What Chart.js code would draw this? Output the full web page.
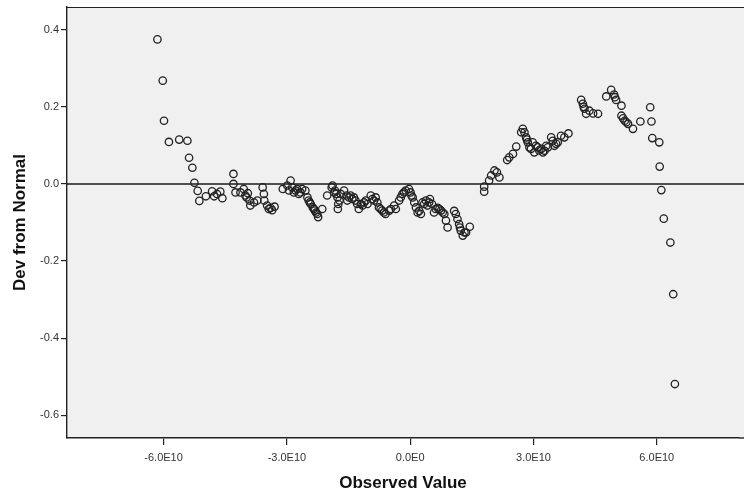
<!DOCTYPE html>
<html>
<head>
<meta charset="utf-8">
<script src="https://cdn.jsdelivr.net/npm/chart.js@4.4.0/dist/chart.umd.min.js"></script>
<style>
  html, body { margin: 0; padding: 0; background: #ffffff; }
  #wrap { width: 744px; height: 497px; }
</style>
</head>
<body>
<div id="wrap"><canvas id="chart" width="744" height="497"></canvas></div>
<script>
const observedValues = [
  -6.15e10, -6.02e10, -5.99e10, -5.87e10, -5.62e10, -5.42e10, -5.38e10, -5.30e10, -5.25e10, -5.17e10,
  -5.13e10, -4.97e10, -4.82e10, -4.77e10, -4.70e10, -4.62e10, -4.57e10, -4.30e10, -4.30e10, -4.25e10,
  -4.13e10, -4.05e10, -4.01e10, -3.98e10, -3.95e10, -3.91e10, -3.89e10, -3.80e10, -3.72e10, -3.59e10,
  -3.56e10, -3.55e10, -3.48e10, -3.44e10, -3.40e10, -3.36e10, -3.30e10, -3.10e10, -2.99e10, -2.95e10,
  -2.91e10, -2.87e10, -2.83e10, -2.79e10, -2.75e10, -2.71e10, -2.67e10, -2.63e10, -2.55e10, -2.50e10,
  -2.47e10, -2.44e10, -2.42e10, -2.37e10, -2.34e10, -2.32e10, -2.29e10, -2.26e10, -2.24e10, -2.14e10,
  -2.02e10, -1.91e10, -1.89e10, -1.85e10, -1.83e10, -1.80e10, -1.77e10, -1.76e10, -1.75e10, -1.72e10,
  -1.69e10, -1.61e10, -1.55e10, -1.53e10, -1.49e10, -1.45e10, -1.41e10, -1.37e10, -1.33e10, -1.29e10,
  -1.25e10, -1.20e10, -1.16e10, -1.12e10, -1.08e10, -1.04e10, -0.96e10, -0.92e10, -0.88e10, -0.84e10,
  -0.80e10, -0.76e10, -0.72e10, -0.68e10, -0.64e10, -0.60e10, -0.51e10, -0.47e10, -0.39e10, -0.35e10,
  -0.27e10, -0.23e10, -0.19e10, -0.15e10, -0.11e10, -0.03e10, 0.01e10, 0.03e10, 0.06e10, 0.10e10,
  0.14e10, 0.18e10, 0.22e10, 0.26e10, 0.30e10, 0.34e10, 0.38e10, 0.42e10, 0.46e10, 0.48e10,
  0.53e10, 0.58e10, 0.62e10, 0.67e10, 0.71e10, 0.75e10, 0.79e10, 0.83e10, 0.87e10, 0.91e10,
  1.07e10, 1.11e10, 1.15e10, 1.19e10, 1.21e10, 1.23e10, 1.28e10, 1.32e10, 1.36e10, 1.45e10,
  1.80e10, 1.80e10, 1.92e10, 1.97e10, 2.05e10, 2.11e10, 2.17e10, 2.36e10, 2.41e10, 2.50e10,
  2.58e10, 2.70e10, 2.74e10, 2.78e10, 2.82e10, 2.84e10, 2.86e10, 2.90e10, 2.94e10, 2.98e10,
  3.02e10, 3.06e10, 3.10e10, 3.14e10, 3.19e10, 3.23e10, 3.27e10, 3.31e10, 3.35e10, 3.43e10,
  3.47e10, 3.51e10, 3.55e10, 3.59e10, 3.67e10, 3.75e10, 3.85e10, 4.16e10, 4.20e10, 4.22e10,
  4.24e10, 4.28e10, 4.36e10, 4.45e10, 4.57e10, 4.77e10, 4.89e10, 4.96e10, 4.98e10, 5.01e10,
  5.14e10, 5.14e10, 5.18e10, 5.22e10, 5.26e10, 5.30e10, 5.42e10, 5.60e10, 5.84e10, 5.87e10,
  5.89e10, 6.06e10, 6.07e10, 6.11e10, 6.17e10, 6.33e10, 6.40e10, 6.44e10
];
const devFromNormal = [
  0.375, 0.268, 0.164, 0.109, 0.115, 0.112, 0.068, 0.042, 0.003, -0.018,
  -0.044, -0.032, -0.019, -0.032, -0.026, -0.020, -0.037, 0.026, 0.000, -0.022,
  -0.022, -0.013, -0.030, -0.035, -0.024, -0.043, -0.056, -0.048, -0.043, -0.009,
  -0.026, -0.043, -0.056, -0.065, -0.062, -0.068, -0.059, -0.013, -0.004, -0.017,
  0.009, -0.009, -0.022, -0.017, -0.013, -0.026, -0.022, -0.013, -0.017, -0.035,
  -0.043, -0.048, -0.052, -0.061, -0.065, -0.069, -0.074, -0.078, -0.086, -0.065,
  -0.030, -0.009, -0.004, -0.022, -0.017, -0.026, -0.035, -0.065, -0.052, -0.043,
  -0.026, -0.017, -0.030, -0.043, -0.035, -0.030, -0.039, -0.035, -0.043, -0.052,
  -0.065, -0.052, -0.056, -0.048, -0.043, -0.052, -0.030, -0.039, -0.043, -0.035,
  -0.048, -0.061, -0.065, -0.069, -0.074, -0.078, -0.069, -0.065, -0.056, -0.065,
  -0.043, -0.035, -0.026, -0.022, -0.017, -0.013, -0.022, -0.030, -0.035, -0.048,
  -0.061, -0.074, -0.070, -0.078, -0.048, -0.052, -0.043, -0.056, -0.048, -0.039,
  -0.052, -0.074, -0.065, -0.062, -0.065, -0.069, -0.074, -0.078, -0.095, -0.113,
  -0.070, -0.078, -0.091, -0.104, -0.113, -0.121, -0.134, -0.126, -0.126, -0.111,
  -0.007, -0.020, 0.009, 0.022, 0.035, 0.030, 0.017, 0.062, 0.069, 0.078,
  0.097, 0.134, 0.143, 0.134, 0.121, 0.115, 0.108, 0.095, 0.091, 0.108,
  0.082, 0.099, 0.095, 0.087, 0.091, 0.082, 0.086, 0.099, 0.095, 0.121,
  0.112, 0.099, 0.104, 0.108, 0.125, 0.121, 0.131, 0.218, 0.208, 0.200,
  0.195, 0.182, 0.190, 0.183, 0.182, 0.227, 0.244, 0.232, 0.225, 0.218,
  0.203, 0.177, 0.170, 0.164, 0.160, 0.156, 0.143, 0.162, 0.199, 0.162,
  0.119, 0.108, 0.045, -0.016, -0.090, -0.152, -0.286, -0.519
];

const xTickValues = [-6e10, -3e10, 0, 3e10, 6e10];
const xTickLabels = ["-6.0E10", "-3.0E10", "0.0E0", "3.0E10", "6.0E10"];
const yTickValues = [0.4, 0.2, 0.0, -0.2, -0.4, -0.6];
const yTickLabels = ["0.4", "0.2", "0.0", "-0.2", "-0.4", "-0.6"];

const points = observedValues.map((v, i) => ({ x: v, y: devFromNormal[i] }));

// grey plot background, top frame line and the zero reference line
const frame = {
  id: "frame",
  beforeDraw(chart) {
    const { ctx, chartArea: a } = chart;
    ctx.save();
    ctx.fillStyle = "#f0f0f0";
    ctx.fillRect(a.left, a.top, chart.width - a.left, a.bottom - a.top);
    ctx.strokeStyle = "#222";
    ctx.lineWidth = 1.2;
    ctx.beginPath();
    ctx.moveTo(a.left, a.top + 0.5);
    ctx.lineTo(chart.width, a.top + 0.5);
    ctx.stroke();
    ctx.restore();
  },
  beforeDatasetsDraw(chart) {
    const { ctx, chartArea: a, scales } = chart;
    const y0 = scales.y.getPixelForValue(0);
    ctx.save();
    ctx.strokeStyle = "#1a1a1a";
    ctx.lineWidth = 1.6;
    ctx.beginPath();
    ctx.moveTo(a.left, y0);
    ctx.lineTo(chart.width, y0);
    ctx.stroke();
    ctx.restore();
  },
  afterDraw(chart) {
    const { ctx, chartArea: a } = chart;
    ctx.save();
    ctx.strokeStyle = "#222";
    ctx.lineWidth = 1.4;
    ctx.beginPath();
    ctx.moveTo(a.right, a.bottom);
    ctx.lineTo(chart.width, a.bottom);
    ctx.stroke();
    ctx.restore();
  }
};

const tickFont = { family: "'Liberation Sans', Arial, sans-serif", size: 11 };
const titleFont = { family: "'Liberation Sans', Arial, sans-serif", size: 17, weight: "bold" };

new Chart(document.getElementById("chart").getContext("2d"), {
  type: "scatter",
  data: {
    datasets: [{
      data: points,
      pointStyle: "circle",
      pointRadius: 3.7,
      pointHoverRadius: 3.7,
      borderWidth: 1.3,
      borderColor: "#222",
      backgroundColor: "rgba(0,0,0,0)",
      clip: false
    }]
  },
  options: {
    responsive: false,
    animation: false,
    events: [],
    layout: { padding: { top: 7, right: 0, bottom: 0, left: 0 } },
    plugins: { legend: { display: false }, tooltip: { enabled: false } },
    scales: {
      x: {
        type: "linear",
        min: -8.35e10,
        max: 8.0e10,
        afterBuildTicks: s => { s.ticks = xTickValues.map(v => ({ value: v })); },
        afterFit: s => { s.height = 59; s.paddingLeft = 0; s.paddingRight = 0; },
        ticks: {
          callback: v => xTickLabels[xTickValues.indexOf(v)],
          font: tickFont,
          color: "#333",
          padding: 6,
          maxRotation: 0
        },
        grid: { drawOnChartArea: false, drawTicks: true, tickLength: 7, color: "#222", lineWidth: 1.2 },
        border: { color: "#222", width: 1.4 },
        title: { display: true, text: "Observed Value", font: titleFont, color: "#111", padding: { top: 0, bottom: 3 } }
      },
      y: {
        type: "linear",
        min: -0.659,
        max: 0.459,
        afterBuildTicks: s => { s.ticks = yTickValues.map(v => ({ value: v })); },
        afterFit: s => { s.width = 67; s.paddingTop = 0; s.paddingBottom = 0; },
        ticks: {
          callback: v => yTickLabels[yTickValues.findIndex(t => Math.abs(t - v) < 1e-9)],
          font: tickFont,
          color: "#333",
          padding: 2
        },
        grid: { drawOnChartArea: false, drawTicks: true, tickLength: 6, color: "#222", lineWidth: 1.2 },
        border: { color: "#222", width: 1.4 },
        title: { display: true, text: "Dev from Normal", font: titleFont, color: "#111", padding: { top: 10, bottom: 0 } }
      }
    }
  },
  plugins: [frame]
});
</script>
</body>
</html>
